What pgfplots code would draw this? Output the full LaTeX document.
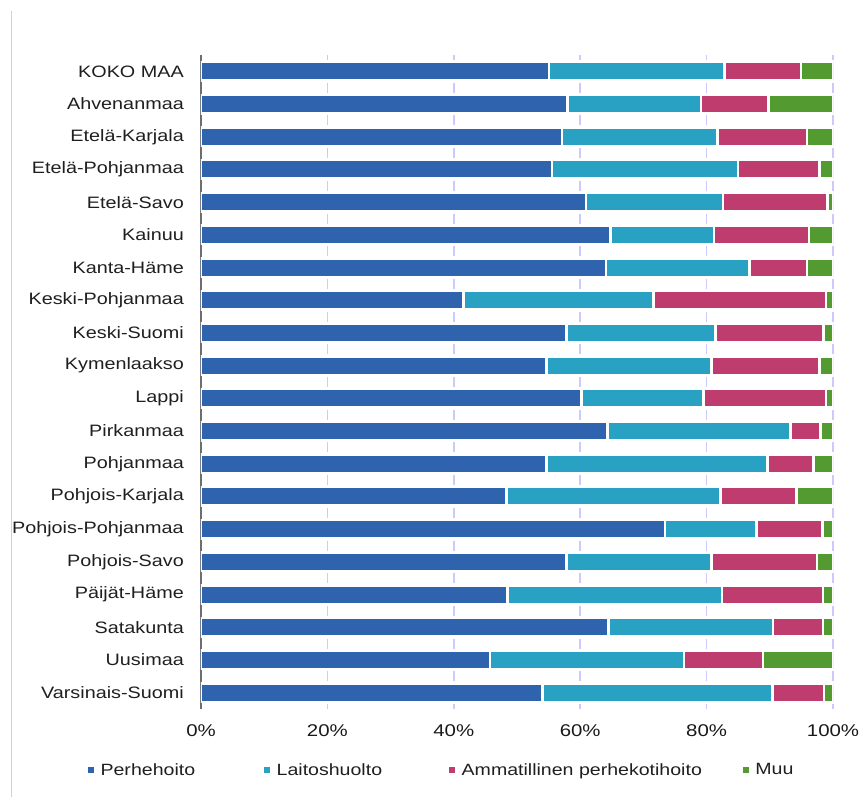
\documentclass[border=0pt]{standalone}
\usepackage{fontspec}
\setmainfont{Liberation Sans}[FakeStretch=1.2]
\usepackage{pgfplots}
\usepackage{pgfplotstable}
\pgfplotsset{compat=1.18}
\definecolor{cblue}{RGB}{48,99,173}
\definecolor{ccyan}{RGB}{41,161,195}
\definecolor{cpink}{RGB}{190,60,110}
\definecolor{cgreen}{RGB}{83,154,48}
\definecolor{gridc}{RGB}{202,202,255}
\definecolor{axisgray}{RGB}{110,110,110}
\pgfplotstableread{
y a b c d
0 55.1 27.7 12.1 5.1
1 58.0 21.1 10.7 10.2
2 57.1 24.6 14.2 4.1
3 55.5 29.5 12.9 2.1
4 60.9 21.7 16.5 0.9
5 64.8 16.4 15.0 3.8
6 64.1 22.7 9.1 4.1
7 41.5 30.1 27.3 1.1
8 57.8 23.6 17.1 1.5
9 54.7 26.1 17.1 2.1
10 60.2 19.3 19.4 1.1
11 64.3 29.0 4.7 2.0
12 54.7 34.9 7.3 3.1
13 48.3 33.9 12.0 5.8
14 73.4 14.5 10.4 1.7
15 57.8 23.0 16.7 2.5
16 48.5 33.9 16.0 1.6
17 64.5 26.0 7.9 1.6
18 45.7 30.7 12.5 11.1
19 54.0 36.4 8.2 1.4
}\datatable
\begin{document}
\begin{tikzpicture}
\begin{axis}[name=ax, scale only axis, width=632pt, height=654pt,
  xbar stacked, bar width=18.5pt,
  xmin=0, xmax=100, ymin=-0.5, ymax=19.5, y dir=reverse,
  xtick={0,20,40,60,80,100}, xticklabels={0\%,20\%,40\%,60\%,80\%,100\%},
  ytick={0,...,19},
  yticklabels={KOKO MAA,Ahvenanmaa,Etelä-Karjala,Etelä-Pohjanmaa,Etelä-Savo,Kainuu,Kanta-Häme,Keski-Pohjanmaa,Keski-Suomi,Kymenlaakso,Lappi,Pirkanmaa,Pohjanmaa,Pohjois-Karjala,Pohjois-Pohjanmaa,Pohjois-Savo,Päijät-Häme,Satakunta,Uusimaa,Varsinais-Suomi},
  major tick length=0pt,
  axis x line*=bottom, axis y line*=left,
  x axis line style={draw=none},
  y axis line style={draw=axisgray, line width=2pt, -},
  xmajorgrids,
  major grid style={draw=gridc, line width=1.6pt, dash pattern=on 10pt off 22.7pt, dash phase=5pt},
  yticklabel style={font=\fontsize{16.5}{19}\selectfont, inner sep=0pt, anchor=east, xshift=-17pt, text=black!88},
  xticklabel style={font=\fontsize{17}{20}\selectfont, inner sep=0pt, anchor=north, yshift=-15pt, text=black!90},
  legend columns=4,
  legend style={at={(-0.179,-0.0933)}, anchor=west, draw=none, fill=none, inner sep=0pt,
    font=\fontsize{16.3}{19}\selectfont, text=black!88,
    nodes={inner sep=0pt, anchor=west},
    /tikz/every odd column/.append style={column sep=6.5pt},
    /tikz/column 2/.style={column sep=69pt},
    /tikz/column 4/.style={column sep=67pt},
    /tikz/column 6/.style={column sep=41pt}},
  legend image code/.code={\path[#1, draw=none] (0pt,-3pt) rectangle (6pt,3pt);},
]
\addplot[fill=cblue, draw=white, line width=2.5pt] table[x=a, y=y]{\datatable};
\addplot[fill=ccyan, draw=white, line width=2.5pt] table[x=b, y=y]{\datatable};
\addplot[fill=cpink, draw=white, line width=2.5pt] table[x=c, y=y]{\datatable};
\addplot[fill=cgreen, draw=white, line width=2.5pt] table[x=d, y=y]{\datatable};
\legend{Perhehoito, Laitoshuolto, Ammatillinen perhekotihoito, Muu}
\end{axis}
\draw[draw=black!18, line width=0.8pt] ([xshift=-190pt,yshift=44pt]ax.north west) -- ([xshift=-190pt,yshift=-88pt]ax.south west);
\pgfresetboundingbox
\path[use as bounding box] ([xshift=-201pt,yshift=-88pt]ax.south west) rectangle ([xshift=663pt,yshift=55pt]ax.north west);
\end{tikzpicture}
\end{document}
